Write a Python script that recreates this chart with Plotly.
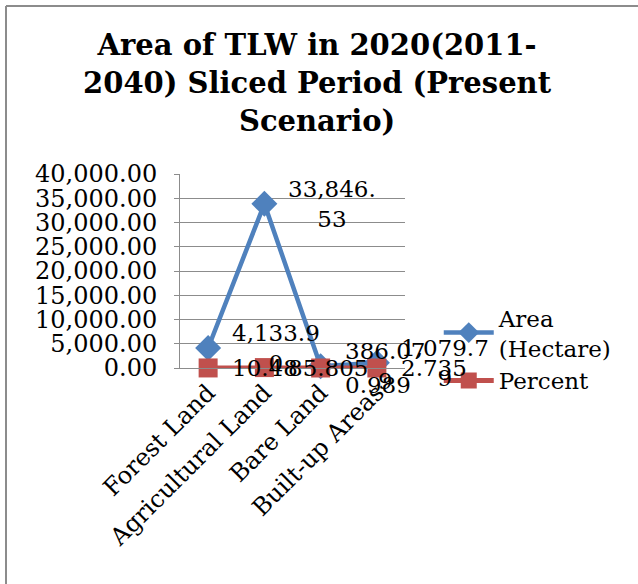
import plotly.graph_objects as go

# Land-use categories and their values for the 2020 (2011-2040) slice
categories = ["Forest Land", "Agricultural Land", "Bare Land", "Built-up Areas"]
area_ha = [4133.90, 33846.53, 386.079, 1079.79]
percent = [10.48, 85.805, 0.989, 2.735]
y_ticks = [0, 5000, 10000, 15000, 20000, 25000, 30000, 35000, 40000]

FONT = "DejaVu Serif"
BLUE = "#4F81BD"
RED = "#C0504D"
GRID = "#8C8C8C"
LABEL_SIZE = 23


def wrap(label, width=7):
    """Break a data label into lines of at most `width` characters."""
    parts = [label[i:i + width] for i in range(0, len(label), width)]
    return "<br>".join(parts)


def fmt(v):
    s = f"{v:,.3f}".rstrip("0")
    if s.endswith("."):
        s = s[:-1]
    if "." in s and len(s.split(".")[1]) < 2:
        s += "0"
    return s


area_text = [wrap(f"{v:,.2f}") if v > 1000 else wrap(fmt(v), 6) for v in area_ha]
pct_text = [fmt(v) for v in percent]

fig = go.Figure()
fig.add_trace(go.Scatter(
    x=categories, y=area_ha, name="Area<br>(Hectare)",
    mode="lines+markers", cliponaxis=False,
    line=dict(color=BLUE, width=4.5),
    marker=dict(symbol="diamond", size=20, color=BLUE),
))
fig.add_trace(go.Scatter(
    x=categories, y=percent, name="Percent",
    mode="lines+markers", cliponaxis=False,
    line=dict(color=RED, width=5),
    marker=dict(symbol="square", size=19, color=RED),
))

# Data labels to the right of each point, centred lines like the source chart
for xs, ys, texts, low in [(categories, area_ha, area_text, None),
                           (categories, percent, pct_text, "Bare Land")]:
    for c, v, t in zip(xs, ys, texts):
        fig.add_annotation(
            x=c, y=v, text=t, showarrow=False,
            xanchor="left", yanchor="middle", align="center",
            xshift=22, yshift=-17 if c == low else 0,
            font=dict(family=FONT, size=LABEL_SIZE, color="black"),
        )

# Chart frame: left and top edges
frame = dict(type="line", xref="paper", yref="paper",
             line=dict(color="#8C8C8C", width=2))
fig.add_shape(**frame, x0=-0.7733, x1=-0.7733, y0=-1.12, y1=1.866)
fig.add_shape(**frame, x0=-0.7733, x1=2.04, y0=1.866, y1=1.866)

fig.update_layout(
    width=638, height=584,
    margin=dict(l=180, r=233, t=174, b=216),
    paper_bgcolor="white", plot_bgcolor="white",
    font=dict(family=FONT, size=22, color="black"),
    title=dict(
        text="<b>Area of TLW in 2020(2011-<br>2040) Sliced Period (Present<br>Scenario)</b>",
        x=0.497, xanchor="center", y=0.905, yanchor="middle",
        xref="container", yref="container",
        font=dict(family=FONT, size=29, color="black"),
    ),
    showlegend=True,
    legend=dict(
        x=1.15, y=0.37, xanchor="left", yanchor="top",
        font=dict(family=FONT, size=23, color="black"),
        bgcolor="rgba(0,0,0,0)", tracegroupgap=4, itemwidth=50,
    ),
)
fig.update_yaxes(
    range=[0, 40000], tickvals=y_ticks,
    ticktext=[f"{v:,.2f}" for v in y_ticks],
    showgrid=True, gridcolor=GRID, gridwidth=1,
    showline=True, linecolor=GRID, linewidth=1,
    ticks="outside", ticklen=5, tickcolor=GRID,
    ticklabelstandoff=12,
    zeroline=False, tickfont=dict(family=FONT, size=24),
)
fig.update_xaxes(
    type="category", range=[-0.5, 3.5],
    showgrid=False, showline=True, linecolor=GRID, linewidth=1,
    ticks="", tickangle=-45, tickfont=dict(family=FONT, size=24),
)

fig.write_html("out.html")
